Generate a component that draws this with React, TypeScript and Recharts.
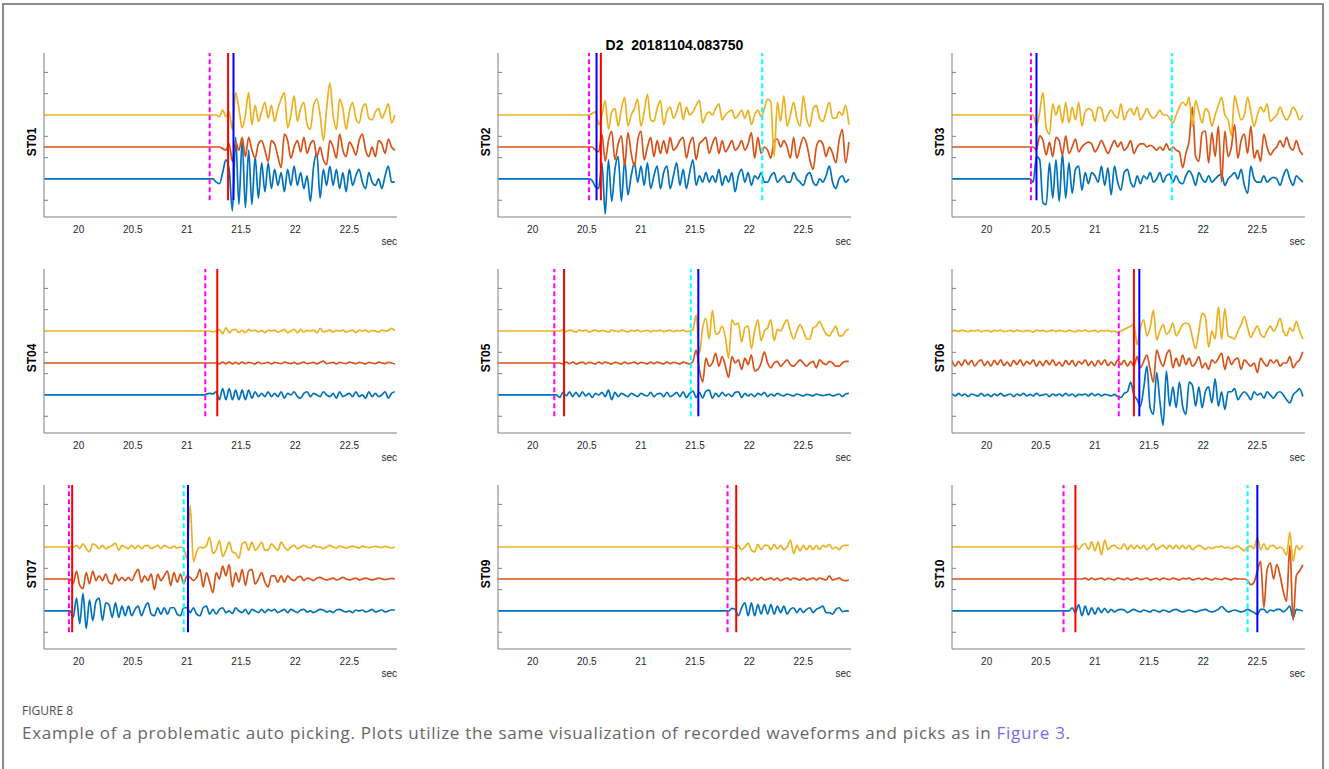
import React from 'react';
import { LineChart, Line, XAxis, YAxis, ReferenceLine } from 'recharts';

// ---- sample times (s), shared by every station ----
const TIME = [
  19.68, 19.71, 19.74, 19.77, 19.8, 19.83, 19.86, 19.89, 19.92, 19.95, 19.98, 20.01, 20.04, 20.07, 20.1, 20.13, 20.16, 20.19, 20.22, 20.25,
  20.28, 20.31, 20.34, 20.37, 20.4, 20.43, 20.46, 20.49, 20.52, 20.55, 20.58, 20.61, 20.64, 20.67, 20.7, 20.73, 20.76, 20.79, 20.82, 20.85,
  20.88, 20.91, 20.94, 20.97, 21.0, 21.03, 21.06, 21.09, 21.12, 21.15, 21.18, 21.21, 21.24, 21.27, 21.3, 21.33, 21.36, 21.39, 21.42, 21.45,
  21.48, 21.51, 21.54, 21.57, 21.6, 21.63, 21.66, 21.69, 21.72, 21.75, 21.78, 21.81, 21.84, 21.87, 21.9, 21.93, 21.96, 21.99, 22.02, 22.05,
  22.08, 22.11, 22.14, 22.17, 22.2, 22.23, 22.26, 22.29, 22.32, 22.35, 22.38, 22.41, 22.44, 22.47, 22.5, 22.53, 22.56, 22.59, 22.62, 22.65,
  22.68, 22.71, 22.74, 22.77, 22.8, 22.83, 22.86, 22.89, 22.92,
];

const STATIONS = ['ST01', 'ST02', 'ST03', 'ST04', 'ST05', 'ST06', 'ST07', 'ST09', 'ST10'];
const X_TICKS = [20, 20.5, 21, 21.5, 22, 22.5];
const Y_TICKS = [-6.67, 6.67, 13.33, 26.67, 33.33];
const X_DOMAIN = [19.68, 22.94];
const Y_DOMAIN = [-11.9, 39.4];
const CHANNEL_OFFSET = [0, 10, 20]; // blue, red, yellow baselines
const PICK_BOTTOM = -6.67;

// ---- picks (s); null = not shown ----
const PICK_MAGENTA = [21.21, 20.52, 20.41, 21.17, 20.2, 21.22, 19.91, 21.8, 20.71];
const PICK_RED = [21.38, 20.63, null, 21.28, 20.29, 21.36, 19.94, 21.88, 20.82];
const PICK_BLUE = [21.43, 20.59, 20.46, null, 21.53, 21.41, 21.01, null, 22.5];
const PICK_CYAN = [null, 22.12, 21.71, null, 21.46, null, 20.97, null, 22.41];

// ---- first sample index of each recorded segment (earlier samples are the quiet baseline) ----
const START_BLUE = [53, 29, 25, 49, 18, 0, 8, 71, 36];
const START_RED = [53, 29, 25, 53, 19, 0, 9, 73, 40];
const START_YELLOW = [53, 29, 25, 51, 19, 0, 9, 72, 37];

// ---- waveform amplitudes ----
const ST01_BLUE = [-1, -1.5, 2, 6, 3, -10, 13, -8, 12, -9, 9, -8, 7, -6, 5, -4, 5, -3, 3, -2, 2, -4, 3, -2, 4, -2, 2, -3, 1, -7, 4, 8, -6, 3, -2, 4, -2, 3, -3, 2, -4, 3, -2, 1, 3, -1, -3, 2, -1, -2, 0, -3, 1, 4, -1, -1];
const ST01_RED = [0, 0, -0.5, -1, 1, -4.5, 1.5, -1, 3, -3, 3, -1, -3.5, 1, 2, -1, -4.5, 2, 1, -3, -6.5, 4, 2, -3.5, 0, 2, -1.5, 3, -2, 1, 2, -3, 0, -4, -5.5, 2, 0, -3.5, 4, -1, -3, 1.5, 0, -2.5, 2, 4, -1, -3, 0, -3, 2, 1, -2, 2.5, 0, -1];
const ST01_YELLOW = [0, -0.5, 1.5, -0.5, 1, -4.5, 7, 2, -4, 0, 7, -3, 3, -2, 1, 4, -1, 3, -2, 2, 5, 7, -4, 0, 6, -2, 2, 4, -3, -4.5, 3, 5, 0, -8, 2, 10, 0, -4.5, 5, 2, -4.5, 1, 4, -1, -2.5, 2, 3.5, -1, -1.5, 1, 2, -1, 1, 3.5, -2.5, 0];

const ST02_BLUE = [-0.5, -2.5, -3, 5, -11, 6, -7, 3, 7, -7, 6, -5, 1, 5, -1, 4, -2, 5, -3, 1, 4, -3, 2, 4, -3, 1, 5, -2, 3, -3, 2, 6, -2, 1, -1, 2, -1, 1, -1, 3, -2, 1, -1, 2, -4, 1, 3, -1, 2, -2, 1, 0, 2, -1, -1, 1, 2, -1, 0, 1, -1, -1, 2, 0, -1, -2, 1, 2, -1, -2, 0, -1, 1, 4, -1, -3, 0, 1, -1, 0];
const ST02_RED = [0, -1, -1.5, 4, -4.5, 2, 5, -4, 1, 3.5, -6, 4.5, -2, -6, 2, 5, -4, 0, 3, -3, 2, -2, 2, -2, 3, -1, 0, 2, 3, -3.5, 1, 3, -4, 1, 2, 3, -2, 1, 3, -2, 2, -1.5, 0, 2, -1, 0, 2, -1, 1, 4.5, -3.5, 3, -2, 0, -1, -3.5, 2, 2.5, 0, 2, 0, -3.5, 3, -3.5, 0, 3, 1, -4, -7, 0, 2, 1, -3, 0, -2, -5, 2, 5.5, -5, 1.5];
const ST02_YELLOW = [0.5, 1, -3, 0, 4.5, -4.5, 1, 2, -3.5, 2, 5.5, -3.5, 0, 2, 5, -3.5, 1, 6.5, -1.5, -2, 2, 4.5, -3, 1, 2.5, -1, 1, 4, -1.5, 2.5, 0, 1, 3, 4.5, -2.5, 0, 1, 0, 2, 3.5, -1.5, 0, 1, 1.5, -1, 0, 1.5, -1, 1.5, -3, 0, 1.5, -0.5, 2, 5, 4, -13, 4, -2, 6, -3.5, 0, 4, -1, -3.5, 6, -1, -3.5, 2, 3, -1, -2, 1, 4, -1, -1, 1, 0, 3, -3];

const ST03_BLUE = [-1, 7, 6, -7.5, -8, 5, -6, 6, -7, 8, -6, 5, -4.5, 3, 4, -3.5, 2, -1.5, 2, 1, -1, 4, -2, 3.5, -5, 4, -1, -3.5, 2, 3, -1, -2.5, 1, -1.5, 1, 0, 2, -1, 0, 2, -1, 1, 1.5, -1, 1, -1, -1.5, 1, 2.5, 1, -2, 2, 0, -1, 1, -1, 0, 1, 1.5, -2, 0, 1, 2, 0, 3, -2, -4.5, 4, 0, -1, -1, 1, -1, 0, 0.5, 0, -2, 1, 3, 0, -2, 1, 0, -1];
const ST03_RED = [0, -1, 3.5, 2, -2.5, 1.5, -3, 3, 2, -2.5, 3.5, -2, 0, 2.5, -1.5, 0, 1, 1.5, 1, -1.5, 0, 2, 0, -2, 0, 2, 0, 1.5, -1, 0, 2, -2, 0, 1, 1, 0, 0.5, 0, -1, 0, -1, 1, -1, 0, -1, -1.5, -6.5, -2, 2, 12.5, -3, -4.5, 4.5, 5, -5, 4.5, -3, 6.5, -11, 5, -3, 0, 7, -3.5, 2, 4, -2, 6.5, -3.5, -1, -4.5, 4, 0, -2.5, -1, 0, 2, 0, 3, 0, -1, 2, -1, -2.5];
const ST03_YELLOW = [0, -3.5, 1, 7, -4, -6, 3.5, 0, 3, -2.5, 4, -2.5, 2.5, -1.5, 4, -3.5, 1, 2, 1.5, -2, 2.5, 2, -2, 0, 1.5, 0, -1, 3.5, -1.5, 1, 2, 0, 2.5, -1.5, 0, 2, 0, -1, 0, 1.5, 0, 0, -1, -2.5, 0, 2.5, 4, 3, 5.5, -3.5, 4.5, 1, -2.5, 2, 1, -3.5, 0, 3, 5.5, 0, -1.5, -6.5, 6, 2, -1.5, 0, 5.5, 1, -3.5, 0, 2.5, 1, 3.5, -2, -1, 0, 2.5, 0, -1.5, 0, 2.5, 1, -1.5, 0];

const ST04_BLUE = [0, 0.3, 0.5, 0.3, 1, -1.5, 2, -1.5, 2, -1.5, 1.5, -1.5, 1.5, -1.5, 1.5, -1, 1, -0.5, 0.5, -0.5, 1, -0.5, 0.5, -0.5, 1, -1, 0.5, 0, 1, -0.5, -1, 0.5, 1, -0.5, 0.5, 0, -0.5, 1, 0, -0.5, 0.5, -1, 1, -0.5, 0, 0.5, -0.5, 1, -0.5, 0, -1, 1, -0.5, 0.5, -0.5, 0, 1, -1, 0.5, 1];
const ST04_RED = [0, -0.3, 0.3, -0.3, 0.3, -0.3, 0.2, -0.3, 0.3, -0.2, 0.2, 0, -0.3, 0.3, -0.2, 0, 0.2, -0.3, 0.2, 0, -0.2, 0.3, 0, -0.2, 0.2, -0.3, 0, 0.3, -0.2, 0, 0.2, -0.3, 0.2, 0.6, -0.2, 0, 0.2, -0.3, 0.2, 0, -0.2, 0.3, 0, -0.2, 0.2, 0, -0.3, 0.2, 0, -0.2, 0.3, 0, -0.2, 0.2, 0, -0.3];
const ST04_YELLOW = [0, -0.3, 0, 0.5, -0.8, 1, -0.5, 0.3, 0.5, -0.5, 0.3, -0.5, 0.5, 0, 0.3, -0.3, 0.2, -0.5, 0.3, 0, 0.3, -0.3, 0, 0.5, -0.5, 0, 0.5, -0.5, 0.5, -0.3, 0.2, 0, 0.3, -0.5, 0.8, -0.3, 0, 0.3, -0.3, 0.2, 0, 0.3, -0.3, 0, 0.3, -0.5, 0.3, 0, 0.3, -0.3, 0.2, 0, -0.3, 0.3, 0, 0.2, 0.8, 0];

const ST05_BLUE = [0, -0.8, 0.8, -0.3, 1, -0.5, 0.8, -0.5, 1, -0.3, 0.5, -0.8, 0.5, 0, 0.8, -0.5, 1.5, -1.5, 0.8, -0.5, 0.5, 0, -0.5, 0.5, 0, -0.5, 0.5, 0, -0.3, 0.8, -0.5, 0.3, 0.5, -0.5, 0.8, -0.5, 0, 0.8, -0.5, 1, -0.8, 0.5, 1.2, -0.8, 0.8, -1, 1.2, 1.5, -1, 0.5, -0.5, 0.8, -0.3, 0.3, -0.5, 0.8, 1, -0.8, 0.5, -0.3, 0.3, -0.5, 0.5, 0, 0.8, -0.5, 0.3, -0.3, 0.5, 0, -0.3, 0.3, 0, -0.3, 0.3, 0, -0.3, 0.2, 0, -0.3, 0.3, 0, -0.2, 0, 0.2, -0.3, 0, 0.3, -0.5, 0.3, 0.5];
const ST05_RED = [0, -0.3, 0.3, -0.2, 0.3, -0.3, 0, 0.3, -0.3, 0.2, 0, -0.3, 0.3, -0.2, 0.3, 0, -0.3, 0.2, 0, -0.3, 0.3, -0.2, 0, 0.3, -0.3, 0.2, 0, -0.3, 0.3, -0.2, 0.3, 0, -0.3, 0.3, -0.2, 0.2, 0, -0.3, 0.3, 0, -0.3, 0.5, 4, -2, -6, 1.5, -1, 0, 3, -1, 2, -1, -4.5, 2, 0, 1, -2, 1.5, -0.5, 2.5, -2.5, -2, 0, 3.5, 0, -1.5, 0, 0.5, -1, 0, 1, -0.5, -1, 0, 1, 0, -1, 0, 0.5, -1.5, 1, 0, -0.5, 0.5, 0, -1, -1, 0, 0.5, 0.5];
const ST05_YELLOW = [0, 0.3, -0.2, 0.3, 0, -0.3, 0.3, 0, 0.3, -0.3, 0, 0.3, -0.2, 0.2, 0, -0.3, 0.3, 0, -0.2, 0.3, 0, -0.3, 0.2, 0, 0.3, -0.2, 0, 0.2, -0.3, 0.2, 0, 0.3, -0.2, 0, 0.3, -0.2, 0.2, 0, 0.3, -0.2, 0, 0.5, 5, -7, 1, 4, -2.5, 6.5, -1, -0.5, 1.5, -2, -8.5, 3.5, 2, 2.5, -3.5, 1, 1.5, -5.5, 0, 3.5, -3, 0, 1, 3.5, -3, 0.5, 0, 2, 3.5, 0, -2.5, 0, 2, 0, -2.5, -2.5, 1, 1.5, 3, 1, -1, -1.5, 0, 1.5, -1.5, -1.5, 0, 0.5];

const ST06_BLUE = [
  0.3, -0.3, 0.5, -0.2, 0.3, -0.5, 0.3, 0, -0.3, 0.5, -0.3, 0.2, -0.5, 0.3, -0.2, 0.5, -0.3, 0, 0.3, -0.5, 0.3, -0.2, 0.5, -0.3, 0.2,
  -0.3, 0.5, -0.2, 0, 0.3, -0.5, 0.3, -0.2, 0.3, -0.3, 0.5, -0.2, 0.3, -0.5, 0.2, 0, 0.3, -0.3, 0.5, -0.2, 0.3, -0.3, 0.2, 0, -0.3, 0.2,
  -0.5, -0.8, 0.5, 1, 4, 0, -1.5, -3.5, 2, 9, -4, -6, 7, -2, -9.5, 7.5, -3.5, 2.5, -4, 4, -3.5, -6, 4, 3, -3.5, 2.5, -4, 1, 2.5, -2.5,
  5, -3.5, 1, -4.5, 1, 1, 2, -1.5, 0, 1, 0, -1.5, 1, 0, 0.5, -1, 1, 0, -1, 0.5, 1, 0, -1.5, -2.5, 0, 1, 2, -0.5,
];
const ST06_RED = [
  0.8, -1, 0.5, -0.8, 1, -0.5, 0.8, -1, 0.3, 1, -0.8, 0.5, -1, 0.8, -0.5, 1, -0.8, 0.3, -1, 0.8, -0.5, 1, -0.8, 0.5, -0.3, 1, -1, 0.5,
  -0.8, 0.8, -0.5, 1, -0.8, 0.3, -1, 0.8, -0.5, 0.8, -1, 0.5, -0.3, 1, -0.8, 0.5, -1, 0.8, -0.5, 1, -0.8, 0.3, -0.8, 1, -0.5, 0.8, -1, 0.5,
  -1, 2, -1.5, 0.5, 2.5, -2, -6, 4, 1, -1, 2.5, 4, -1.5, 1.5, -1, 2.5, -0.5, 1.5, -1, 0, 2, -1.5, 0, -2, 1, 0, 1.5, 3, -2, 2, -0.5, 1,
  1.5, -2, 1, 0, -1, 0, -3, 1.5, 0, -1, 1, 0, 1, -1, 0, 0, 2, -1.5, 0, 1, 3.5,
];
const ST06_YELLOW = [
  0, 0.2, -0.2, 0.3, 0, -0.2, 0.2, 0, 0.3, -0.2, 0, 0.2, -0.3, 0.2, 0, 0.3, -0.2, 0, 0.2, -0.2, 0.3, 0, -0.2, 0.2, 0, -0.3, 0.3, 0,
  0.2, -0.2, 0, 0.3, -0.2, 0.2, 0, -0.2, 0.3, 0, -0.2, 0.2, 0, 0.3, -0.2, 0, 0.2, -0.3, 0.2, 0, 0.2, -0.2, 0,
  -0.5, 0, 0.5, 1, 1.5, 2, -4.3, 1, 3.5, -1.5, 1, 6.5, -2.8, 0, 2, -1, 0, 2.5, -1.5, 0, 2, 2.5, 2, -2, -5.5, 0, 5.5, 4.5, -5, 0, -2.5,
  7.5, -2.5, 7, -1.5, -2, -2.5, 0, 2, 4.5, 1, -2, 0, 1.5, -1, -2, 0, 1.5, 0, 1.5, 4, 0, -1.5, 1, 0, 3, 0, -2.5,
];

const ST07_BLUE = [0, -2, 4, -4, 5.5, -5.5, 3.5, -3, 3, 4, -3, 2.5, 2, -2, 2.5, -2, 1.5, -1.5, 1.5, -1.5, 0.5, 1.5, -1.5, 1, 2.5, -1, -1.5, 1, -1, 1, -1, 1, 1, -1, -1.5, 1, 1, -0.5, 1, -1, -1.5, 1, 1.5, -1, 0.5, -1, 0.5, 1, -0.5, 0, -0.8, 1, 0, -0.5, 0.5, -1, 0.5, 0, -0.5, 0.5, -0.5, 0.5, 0, 0.5, -0.5, 0, 0.5, -0.5, 0.5, 0, -0.5, 0.3, 0.5, -0.3, 0, -0.5, 0, 0.5, 0.3, -0.3, 0, -0.5, 0.3, 0.5, 0, -0.3, 0, -0.5, 0.3, 0, 0.3, -0.3, 0, 0.5, -0.3, 0, 0.3, -0.3, 0, 0.3, 0.3];
const ST07_RED = [-1.5, 2.5, -2, -3, 2, -1.5, 2.5, -0.5, 1, -0.5, 1.5, -1, -1.5, 1.5, -0.5, 0.5, -0.5, 0.5, -0.5, 1.5, 3, -1, 1, -0.5, 1.5, -3.3, 1.5, -0.5, 1, 2.5, -2, 2, -1, 1.5, -1.5, 1, 0.5, -0.5, 0.5, 3, -2.5, 2, -1, -4.3, 2, 0, 4, 1, 4.5, -2.5, 2, -1, 3, -2, 2.5, 3, -1.5, 0, 2, -1, -2.5, 1, 1, -1, 1, -1, 1, 0, -0.5, 0.5, 0.8, -0.5, 0.3, 0, -0.5, 0.3, 0.5, 0, -0.3, 0, 0.3, -0.3, 0, 0.5, 0, -0.3, 0, 0.3, -0.3, 0, 0.3, 0, -0.3, 0, 0.3, 0, -0.2, 0, 0.2, 0];
const ST07_YELLOW = [0, 0.5, -0.5, 1, -0.5, -1.5, 1, 0.5, -0.5, 0.5, -0.5, 0, 0.5, 1.2, -1, 0.5, 0, -0.5, 0.5, -0.5, 0.5, -0.5, 0.3, 0.5, -0.5, 0, 0.5, -0.5, 0.5, 0, -0.3, 0.3, -0.3, 0, -0.5, -3.5, 13, -4.5, -1.5, 0, -0.3, 0.5, 3, -2, -1, 2, -3, -1, 1.5, -1.5, -2, -3.5, 1, 1.5, -1, 1.5, -1, 0, 1.5, -1, -1, 1, 0, -1, 1.5, 0, -1, 0, 0.5, -0.5, 0, 0.5, 0, -0.3, 0.5, 0, 0, -0.5, 0, 0.5, 0, -0.3, 0.3, 0, -0.3, 0, 0.3, 0, -0.3, 0.3, 0, -0.2, 0, 0.2, 0, -0.2, 0.2, 0, -0.3, 0];

const ST09_BLUE = [0, 0.8, 0.5, -1.5, 1, 2.5, -1.5, 2.5, -1.5, 2, -1, 2, -1, 2, -1, 1.5, -0.5, 1.5, -1, 0.5, 1, -0.5, 0.8, -0.5, 0.5, 1, -0.5, 0.5, 1, 1.5, -0.5, -0.5, -1, 0.5, 1, -0.2, 0, 0];
const ST09_RED = [0, -0.5, 0.3, -0.3, 0.5, -0.5, 0.3, -0.3, 0.5, -0.3, 0, 0.3, -0.3, 0.3, -0.5, 0, 0.3, -0.3, 0.3, 0, -0.3, 0.3, -0.3, 0, 0.3, -0.3, 0.3, 0, -0.3, 1, -0.3, 0, 0.3, -0.3, -0.5, -0.3];
const ST09_YELLOW = [0, -0.5, 0.5, -0.8, 0, 1.2, -1, -1.5, 0.8, -0.8, 0.5, 0.5, -0.8, 0.8, -0.5, 0.5, -0.8, 0, 2.2, -2, 0.5, -1.2, 0.5, -0.8, 0.5, -0.8, 0.5, -0.8, 0.5, 0, 0.8, -0.5, 0, -0.8, 0.3, 0.5, 0.5];

const ST10_BLUE = [0, 1, -0.5, 2, -1.5, 1.5, -1.2, 1, -1, 1, -0.5, 0.8, -0.5, 0.5, -0.3, 0.3, 0.5, 0.3, -0.5, 0, 0.5, 0, -0.3, 0.3, 0, -0.3, 0.3, 0, -0.3, 0.3, 0, -0.3, 0.3, 0.5, 0, -0.3, 0, 0.3, 0, -0.3, 0, 0.3, 0.5, 0, -0.3, 0, 0.5, 1.4, 0.5, -0.3, 0, 0.3, 0, -0.3, 0, 0.5, 0, -0.5, -1.1, 0.5, 0.5, -0.5, 0.3, 0, 0.5, 0.5, -0.3, 0.5, 1.5, -2.2, 0.5, 0.3, 0];
const ST10_RED = [0, 0.3, -0.3, 0.3, -0.2, 0, 0.3, -0.3, 0.2, 0, -0.3, 0.3, 0, -0.2, 0.3, -0.3, 0, 0.3, -0.2, 0, 0.3, -0.3, 0, 0.2, -0.3, 0.3, 0, -0.2, 0.3, 0, -0.3, 0.2, 0, 0.3, -0.3, 0, 0.2, -0.2, 0.3, 0, -0.3, 0.2, 0, -0.2, 0.3, 0, -0.3, 0.2, 0, 0, 0, -0.5, -1.8, -1, 2.5, 5.5, -9, 3, 5, 0, 4.5, 1, -4, -7, 10.5, -13, 1, 2.5, 4.4];
const ST10_YELLOW = [0, 0.5, -0.8, 0.5, 1.1, -0.8, 1.6, -1.2, 1.6, -2.5, 2.2, -0.8, 0.2, 0.5, -0.3, -0.5, 1, -0.8, 0.5, -0.5, 0.5, -0.5, 0.5, -0.8, 0, 1, -0.8, 0, 0.5, -0.5, 0.5, -0.5, 0.5, -0.5, 0.5, -0.5, 0.5, -0.8, 0, 0.5, 0, -0.8, 0, -0.5, 0, 0, 0.3, -0.3, 0, -0.5, 0, 0.3, -0.5, -1.2, 0, 0.3, -0.5, 3.2, -0.8, 1, -0.8, 0.3, 0.5, -0.5, 0, -0.8, -2.5, 4.7, -4.5, 0.5, -0.8, 0.5];

const CH_BLUE = [ST01_BLUE, ST02_BLUE, ST03_BLUE, ST04_BLUE, ST05_BLUE, ST06_BLUE, ST07_BLUE, ST09_BLUE, ST10_BLUE];
const CH_RED = [ST01_RED, ST02_RED, ST03_RED, ST04_RED, ST05_RED, ST06_RED, ST07_RED, ST09_RED, ST10_RED];
const CH_YELLOW = [ST01_YELLOW, ST02_YELLOW, ST03_YELLOW, ST04_YELLOW, ST05_YELLOW, ST06_YELLOW, ST07_YELLOW, ST09_YELLOW, ST10_YELLOW];

// ---- layout ----
const COL_LEFT = [44, 498, 952];
const ROW_TOP = [53, 269, 485];
const PLOT_W = 353;
const PLOT_H = 164;
const Y_AXIS_W = 44;
const X_AXIS_H = 40;
const AXIS_COLOR = '#808080';
const TEXT_COLOR = '#262626';
const FONT = '"Liberation Sans", Arial, sans-serif';
const TRACE_W = 1.7;

const sampleAt = (values: number[], start: number, i: number, offset: number) => {
  if (i < start) return offset;
  const v = values[i - start];
  return v === undefined ? null : v + offset;
};

const XTick = (p: any) => (
  <text x={p.x} y={p.y + 12} textAnchor="middle" dominantBaseline="central" fontSize={10} fill={TEXT_COLOR} fontFamily={FONT}>
    {String(p.payload.value)}
  </text>
);

const YTick = (p: any) => (
  <line x1={Y_AXIS_W} x2={Y_AXIS_W + 4} y1={p.y} y2={p.y} stroke={AXIS_COLOR} strokeWidth={1} />
);

function pickLine(t: number | null, color: string, dashed: boolean, key: string) {
  if (t === null) return null;
  return (
    <ReferenceLine
      key={key}
      segment={[{ x: t, y: PICK_BOTTOM }, { x: t, y: Y_DOMAIN[1] }]}
      stroke={color}
      strokeWidth={2}
      strokeDasharray={dashed ? '5 3' : undefined}
      ifOverflow="visible"
    />
  );
}

function Panel({ idx }: { idx: number }) {
  const col = idx % 3;
  const row = Math.floor(idx / 3);
  const left = COL_LEFT[col];
  const top = ROW_TOP[row];
  const data = TIME.map((t, i) => ({
    t,
    b: sampleAt(CH_BLUE[idx], START_BLUE[idx], i, CHANNEL_OFFSET[0]),
    r: sampleAt(CH_RED[idx], START_RED[idx], i, CHANNEL_OFFSET[1]),
    y: sampleAt(CH_YELLOW[idx], START_YELLOW[idx], i, CHANNEL_OFFSET[2]),
  }));
  return (
    <>
      <div style={{ position: 'absolute', left: left - Y_AXIS_W, top }}>
        <LineChart width={Y_AXIS_W + PLOT_W} height={PLOT_H + X_AXIS_H} data={data} margin={{ top: 0, right: 0, bottom: 0, left: 0 }}>
          <XAxis
            dataKey="t"
            type="number"
            domain={X_DOMAIN}
            allowDataOverflow
            ticks={X_TICKS}
            interval={0}
            height={X_AXIS_H}
            tickSize={0}
            tickMargin={0}
            tickLine={false}
            axisLine={{ stroke: AXIS_COLOR }}
            tick={XTick}
          />
          <YAxis
            type="number"
            domain={Y_DOMAIN}
            allowDataOverflow
            ticks={Y_TICKS}
            interval={0}
            width={Y_AXIS_W}
            tickSize={0}
            tickMargin={0}
            tickLine={false}
            axisLine={{ stroke: AXIS_COLOR }}
            tick={YTick}
          />
          <Line dataKey="b" type="monotone" stroke="#0072BD" strokeWidth={TRACE_W} dot={false} isAnimationActive={false} />
          <Line dataKey="r" type="monotone" stroke="#D95319" strokeWidth={TRACE_W} dot={false} isAnimationActive={false} />
          <Line dataKey="y" type="monotone" stroke="#EDB120" strokeWidth={TRACE_W} dot={false} isAnimationActive={false} />
          {pickLine(PICK_MAGENTA[idx], '#FF00FF', true, 'm')}
          {pickLine(PICK_CYAN[idx], '#00FFFF', true, 'c')}
          {pickLine(PICK_RED[idx], '#FF0000', false, 'r')}
          {pickLine(PICK_BLUE[idx], '#0000FF', false, 'bl')}
        </LineChart>
      </div>
      <div
        style={{
          position: 'absolute',
          left: left - 12,
          top: top + PLOT_H / 2 + 7,
          transform: 'translate(-50%, -50%) rotate(-90deg)',
          fontFamily: FONT,
          fontWeight: 'bold',
          fontSize: 12,
          color: '#000',
          whiteSpace: 'nowrap',
          lineHeight: '14px',
        }}
      >
        {STATIONS[idx]}
      </div>
      <div
        style={{
          position: 'absolute',
          left: left + PLOT_W - 40,
          width: 40,
          textAlign: 'right',
          top: top + PLOT_H + 19,
          fontFamily: FONT,
          fontSize: 10,
          lineHeight: '12px',
          color: TEXT_COLOR,
        }}
      >
        sec
      </div>
    </>
  );
}

export default function App() {
  return (
    <div style={{ position: 'absolute', left: 0, top: 0, width: 1329, height: 769, background: '#fff', overflow: 'hidden' }}>
      <div style={{ position: 'absolute', left: 2, top: 3, width: 1322, height: 800, border: '2px solid #8c8c8c', boxSizing: 'border-box' }} />
      <div
        style={{
          position: 'absolute',
          left: COL_LEFT[1],
          width: PLOT_W,
          top: 36,
          textAlign: 'center',
          fontFamily: FONT,
          fontWeight: 'bold',
          fontSize: 14,
          lineHeight: '18px',
          color: '#000',
          whiteSpace: 'pre',
        }}
      >
        {'D2  20181104.083750'}
      </div>
      {STATIONS.map((s, i) => (
        <Panel key={s} idx={i} />
      ))}
      <div style={{ position: 'absolute', left: 22, top: 703, fontFamily: '"Open Sans", sans-serif', fontSize: 12, lineHeight: '16px', color: '#4d4d4d' }}>
        FIGURE 8
      </div>
      <div
        style={{
          position: 'absolute',
          left: 22,
          top: 722,
          fontFamily: '"Open Sans", sans-serif',
          fontSize: 17,
          letterSpacing: 0.7,
          lineHeight: '22px',
          color: '#666',
          whiteSpace: 'nowrap',
        }}
      >
        Example of a problematic auto picking. Plots utilize the same visualization of recorded waveforms and picks as in{' '}
        <span style={{ color: '#7b68ee' }}>Figure 3</span>.
      </div>
    </div>
  );
}
